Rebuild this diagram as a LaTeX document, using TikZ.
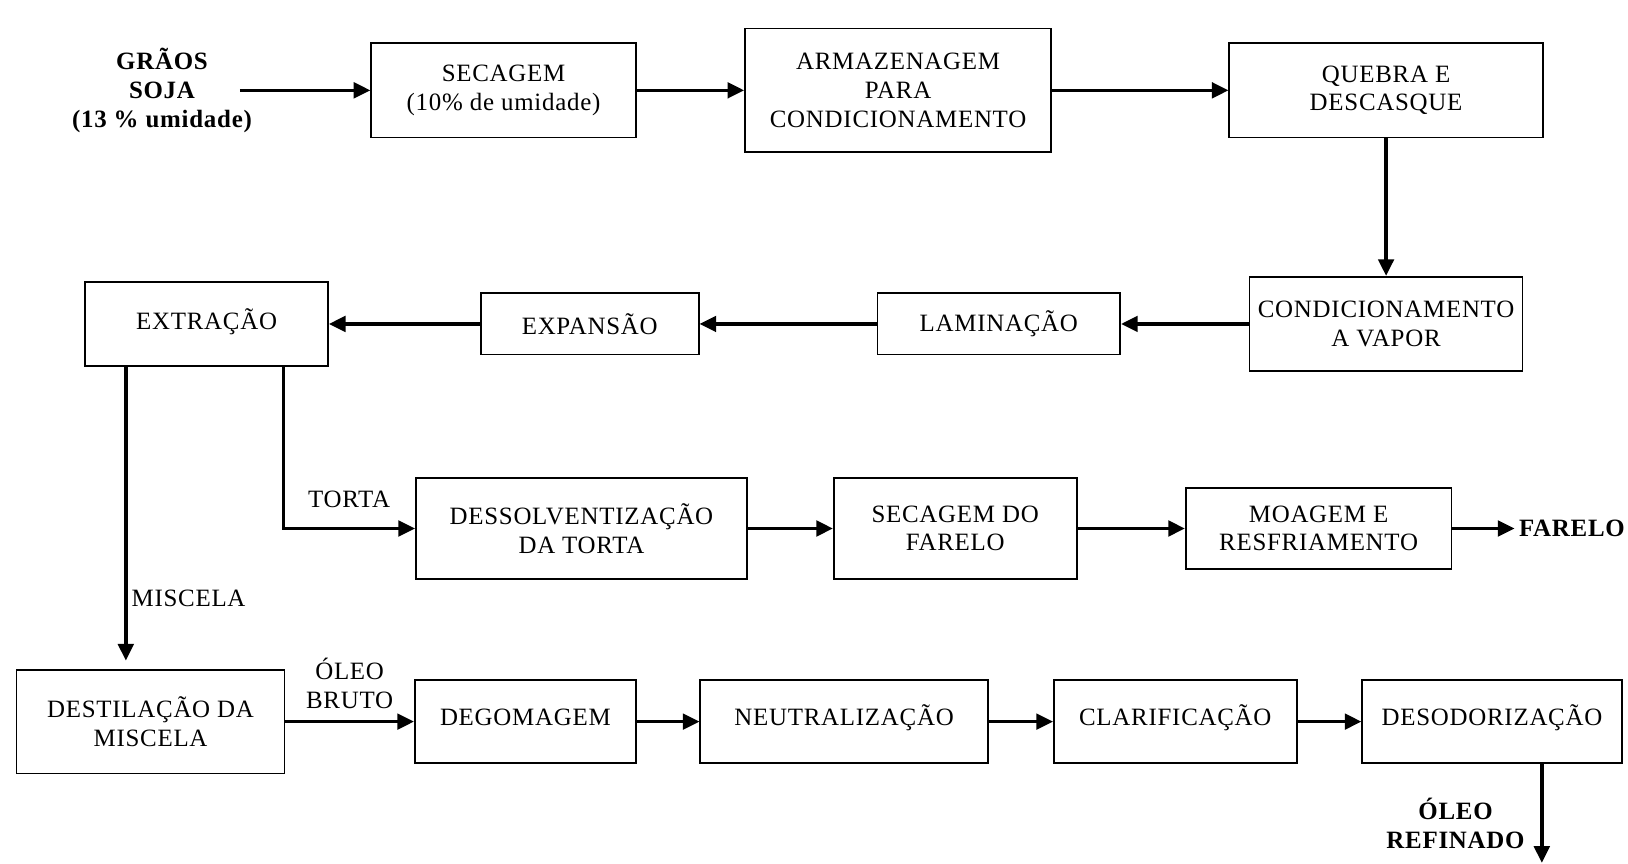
\documentclass[tikz,border=0pt]{standalone}
\usepackage{fontspec}
\setmainfont{Liberation Serif}[LetterSpace=3]
\usepackage{tikz}
\usetikzlibrary{arrows.meta}

\begin{document}
\begin{tikzpicture}[x=0.5pt,y=-0.5pt]
			\tikzstyle{caixa}=[rectangle,draw=black,line width=0.8pt,align=center,inner sep=2pt,font=\fontsize{12}{13.8}\selectfont]
			\tikzstyle{baixa}=[caixa,minimum height=40pt,text height=11pt,text depth=7pt]
			\tikzstyle{seta}=[line width=1.6pt,-{Triangle[length=8pt,width=7.5pt]}]
			\tikzstyle{rotulo}=[align=center,inner sep=2pt,font=\fontsize{12}{13.8}\selectfont]
			\tikzstyle{negrito}=[align=center,inner sep=2pt,font=\fontsize{12}{13.8}\selectfont\bfseries]
			\useasboundingbox (0,0) rectangle (1568,832);
			\node (graos)[negrito] at (156,87) {GRÃOS\\SOJA\\(13 \% umidade)};
			\node (secagem)[caixa,minimum width=127.5pt,minimum height=45.5pt] at (485,87) {SECAGEM\\(10\% de umidade)};
			\node (armaz)[caixa,minimum width=147.5pt,minimum height=59.5pt] at (865,87) {ARMAZENAGEM\\PARA\\CONDICIONAMENTO};
			\node (quebra)[caixa,minimum width=151pt,minimum height=45.5pt] at (1335,87) {QUEBRA E\\DESCASQUE};
			\node (condic)[caixa,minimum width=131.5pt,minimum height=45.5pt] at (1335,312) {CONDICIONAMENTO\\A VAPOR};
			\node (lamin)[caixa,minimum width=117pt,minimum height=29.5pt] at (962,312) {LAMINAÇÃO};
			\node (expans)[caixa,minimum width=105pt,minimum height=29.5pt] at (568,312) {EXPANSÃO};
			\node (extrac)[caixa,minimum width=117pt,minimum height=40.5pt,text depth=5pt] at (199,312) {EXTRAÇÃO};
			\node (dessolv)[caixa,minimum width=159.5pt,minimum height=48.5pt] at (560,509) {DESSOLVENTIZAÇÃO\\DA TORTA};
			\node (secfar)[caixa,minimum width=117pt,minimum height=48.5pt] at (920,509) {SECAGEM DO\\FARELO};
			\node (moag)[caixa,minimum width=128pt,minimum height=39pt] at (1270,509) {MOAGEM E\\RESFRIAMENTO};
			\node (farelo)[negrito] at (1514,509) {FARELO};
			\node (destil)[caixa,minimum width=129pt,minimum height=50pt] at (145,695) {DESTILAÇÃO DA\\MISCELA};
			\node (degom)[baixa,minimum width=106.5pt] at (506,695) {DEGOMAGEM};
			\node (neutr)[baixa,minimum width=138.5pt] at (813,695) {NEUTRALIZAÇÃO};
			\node (clarif)[baixa,minimum width=117pt] at (1132,695) {CLARIFICAÇÃO};
			\node (desod)[baixa,minimum width=125pt] at (1437,695) {DESODORIZAÇÃO};
			\coordinate (miscela) at ([xshift=20pt]extrac.south west);
			\coordinate (torta) at ([xshift=-22pt]extrac.south east);
			\coordinate (saida) at (1485,831);
			
			\draw[seta] ([xshift=-8pt]graos.east) -- (secagem.west);
			\draw[seta] (secagem.east) -- (armaz.west);
			\draw[seta] (armaz.east) -- (quebra.west);
			\draw[seta] (quebra.south) -- (condic.north);
			\draw[seta] (condic.west) -- (lamin.east);
			\draw[seta] (lamin.west) -- (expans.east);
			\draw[seta] (expans.west) -- (extrac.east);
			\draw[seta,shorten >=4pt] (miscela) -- (miscela |- destil.north) node[rotulo,pos=0.765,right]{MISCELA};
			\draw[seta] (torta) |- (dessolv.west) node[rotulo,pos=0.75,above=7pt]{TORTA};
			\draw[seta] (dessolv.east) -- (secfar.west);
			\draw[seta] (secfar.east) -- (moag.west);
			\draw[seta] (moag.east) -- (farelo.west);
			
			\draw[seta] (destil.east) -- (degom.west) node[rotulo,midway,above=3.5pt]{ÓLEO\\BRUTO};
			\draw[seta] (degom.east) -- (neutr.west);
			\draw[seta] (neutr.east) -- (clarif.west);
			\draw[seta] (clarif.east) -- (desod.west);
			\draw[seta] (desod.south -| saida) -- (saida) node[negrito,pos=0.6,left=5.5pt]{ÓLEO\\REFINADO};
		\end{tikzpicture}
\end{document}
